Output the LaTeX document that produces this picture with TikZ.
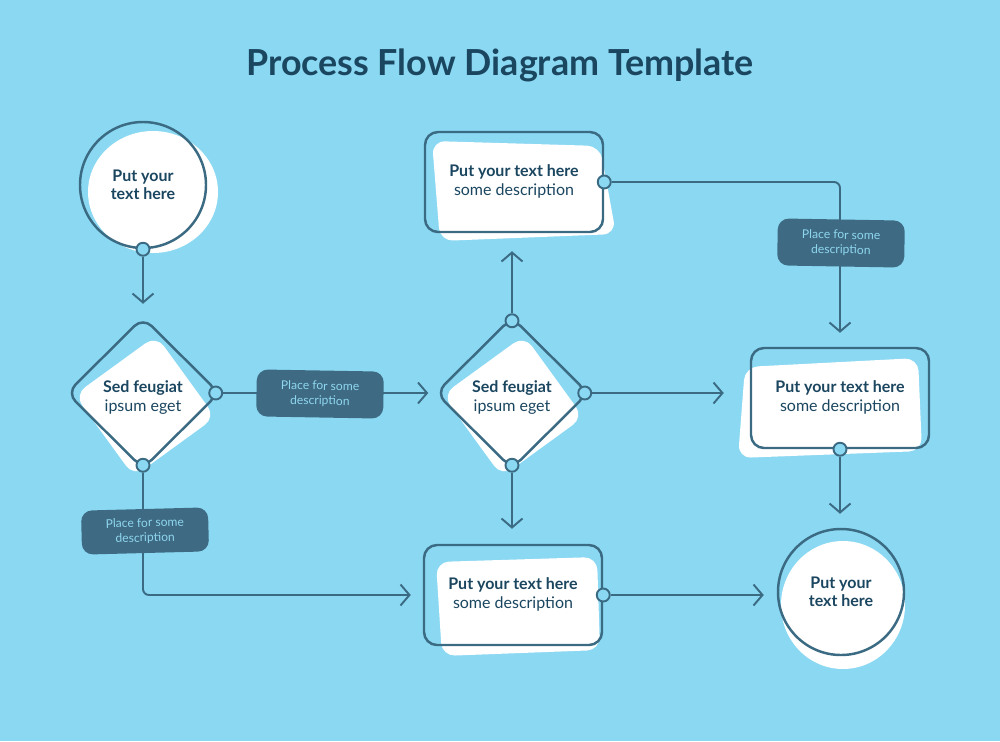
\documentclass[tikz,border=0pt]{standalone}
\usepackage{fontspec}
\setmainfont{Lato}
\usetikzlibrary{arrows.meta, shapes.geometric, positioning}

\definecolor{skyblue}{HTML}{8BD8F3}
\definecolor{inkblue}{HTML}{3B6A83}
\definecolor{navy}{HTML}{1B4660}
\definecolor{tagblue}{HTML}{3E6B83}
\definecolor{tagtext}{HTML}{8FD6EF}

\begin{document}
\begin{tikzpicture}
[x=0.2mm, y=-0.2mm,
 outline/.style={draw=inkblue, line width=1.4pt},
 link/.style={draw=inkblue, line width=1.1pt, rounded corners=1.2mm},
 flow/.style={link, -{Straight Barb[length=1.8mm, width=4.2mm, line width=1.1pt]}},
 blob/.style={fill=white, rounded corners=2.6mm},
 textblock/.style={align=center, text=navy, font=\fontsize{9.1}{10.4}\selectfont},
 box/.style={outline, rounded corners=2.6mm, minimum width=35.6mm, minimum height=20mm,
   inner sep=0pt, textblock},
 bubble/.style={outline, circle, minimum size=25.2mm, inner sep=0pt, textblock},
 decision/.style={outline, diamond, rounded corners=2.4mm, minimum width=30.6mm,
   minimum height=30.4mm, inner sep=0pt},
 port/.style={circle, draw=inkblue, fill=skyblue, line width=1.1pt, minimum size=2.6mm,
   inner sep=0pt},
 tag/.style={fill=tagblue, rounded corners=2.2mm, minimum width=25.4mm, minimum height=9.4mm,
   inner sep=0pt, align=center, text=tagtext, font=\fontsize{6.9}{8.4}\selectfont}]

\fill[skyblue] (0,0) rectangle (1000,741);

\node[text=navy, font=\fontsize{20.4}{23}\selectfont\bfseries] (title) at (500,65)
  {Process Flow Diagram Template};

% white blobs behind the shapes
\fill[white] (153,192) ellipse [x radius=65, y radius=61];
\fill[white] (843,605) ellipse [x radius=62, y radius=64];
\node[blob, diamond, rounded corners=2.6mm, minimum width=28.6mm, minimum height=28.6mm,
  rotate=-9] (blob d1) at (145,406) {};
\node[blob, diamond, rounded corners=2.6mm, minimum width=28.6mm, minimum height=28.6mm,
  rotate=-9] (blob d2) at (513,406) {};
\fill[blob] (432,141) -- (600,146) -- (616,234) -- (440,241) -- cycle;
\fill[blob] (745,367) -- (918,358) -- (922,451) -- (738,458) -- cycle;
\fill[blob] (436,562) -- (597,557) -- (600,650) -- (442,656) -- cycle;

% shapes
\node[bubble] (start) at (143,185) {\textbf{Put your}\\\textbf{text here}};
\node[decision] (decision 1) at (143,393) {};
\node[decision] (decision 2) at (512,393) {};
\node[textblock] (decision 1 text) at ([yshift=-0.9mm]decision 1.center)
  {\textbf{Sed feugiat}\\ipsum eget};
\node[textblock] (decision 2 text) at ([yshift=-0.9mm]decision 2.center)
  {\textbf{Sed feugiat}\\ipsum eget};
\node[box] (step 1) at (514,182) {\textbf{Put your text here}\\some description\\[-0.9em]};
\node[box] (step 2) at (840,398) {\textbf{Put your text here}\\some description\\[-0.9em]};
\node[box] (step 3) at (513,595) {\textbf{Put your text here}\\some description\\[-0.9em]};
\node[bubble] (end) at (841,592) {\textbf{Put your}\\\textbf{text here}};

% ports
\node[port] (port a) at (start.south) {};
\node[port] (port b) at ([xshift=-1mm]decision 1.east) {};
\node[port] (port c) at ([yshift=1mm]decision 1.south) {};
\node[port] (port d) at ([yshift=-1mm]decision 2.north) {};
\node[port] (port e) at ([xshift=-1mm]decision 2.east) {};
\node[port] (port f) at ([yshift=1mm]decision 2.south) {};
\node[port] (port g) at (step 1.east) {};
\node[port] (port h) at (step 2.south) {};
\node[port] (port i) at (step 3.east) {};

% connectors
\draw[flow, shorten >=2.4mm] (port a) -- (decision 1.north);
\draw[flow, shorten >=1.2mm] (port b) -- (decision 2.west);
\draw[flow, shorten >=2.4mm] (port c) |- (step 3.west);
\draw[flow, shorten >=3.6mm] (port d) -- (port d |- step 1.south);
\draw[flow, shorten >=5.2mm] (port e) -- (port e -| step 2.west);
\draw[flow, shorten >=3mm] (port f) -- (port f |- step 3.north);
\draw[flow, shorten >=2.8mm] (port g) -| (step 2.north);
\draw[flow, shorten >=2.8mm] (port h) -- (port h |- end.north);
\draw[flow, shorten >=2.6mm] (port i) -- (port i -| end.west);

% labels on the connectors
\node[tag, rotate=-1] (tag 1) at (320,394) {Place for some\\description};
\node[tag, rotate=1.5, minimum height=8.8mm] (tag 2) at (145,531) {Place for some\\description};
\node[tag, rotate=-1] (tag 3) at (841,243) {Place for some\\description};
\end{tikzpicture}
\end{document}
